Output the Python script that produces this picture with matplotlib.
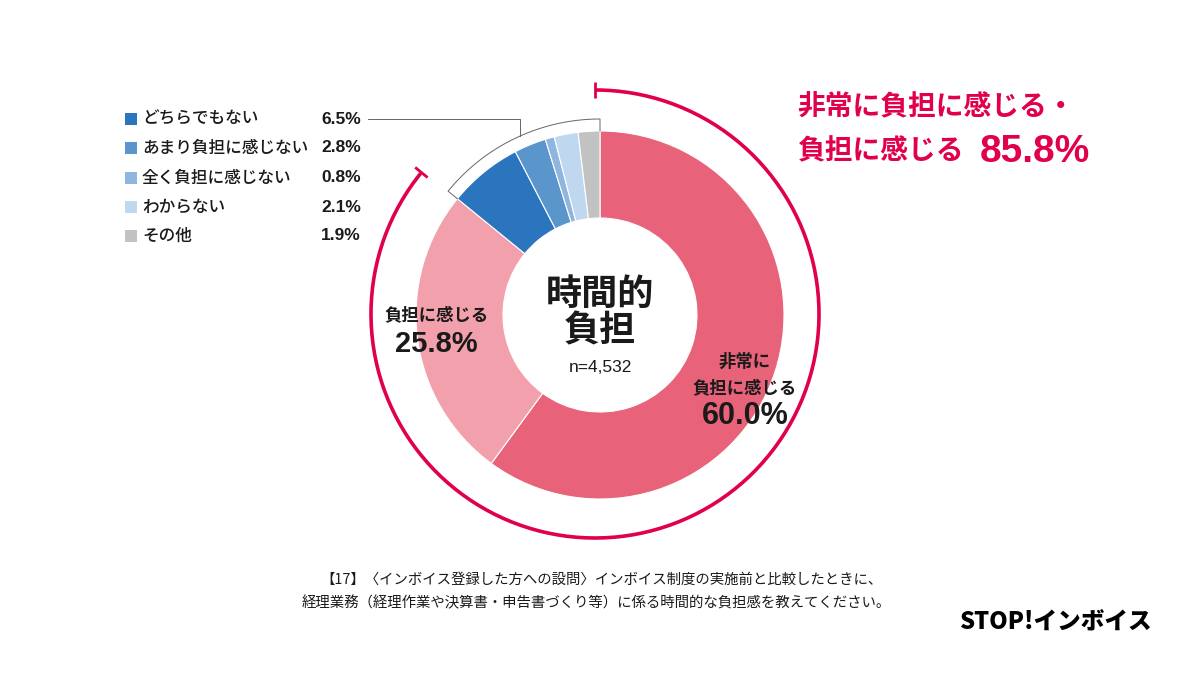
import numpy as np
import matplotlib.pyplot as plt
from matplotlib.patches import Arc

JP = ['Noto Sans CJK JP', 'DejaVu Sans']
NUM = ['Liberation Sans', 'Noto Sans CJK JP']

labels = ['非常に負担に感じる', '負担に感じる', 'どちらでもない', 'あまり負担に感じない',
          '全く負担に感じない', 'わからない', 'その他']
values = [60.0, 25.8, 6.5, 2.8, 0.8, 2.1, 1.9]
colors = ['#E8637A', '#F2A1AC', '#2A75BD', '#5A95CC', '#8FB6DF', '#BFD8EF', '#C2C2C2']
n_count = '4,532'
caption = ['【17】〈インボイス登録した方への設問〉インボイス制度の実施前と比較したときに、',
           '経理業務（経理作業や決算書・申告書づくり等）に係る時間的な負担感を教えてください。']

H = 675
RED = '#E0004B'
TXT = '#1a1a1a'

fig = plt.figure(figsize=(12, 6.75), dpi=100)
ax = fig.add_axes([0, 0, 1, 1])

cx, cy = 600, H - 315
r_out, r_in = 184, 97
ax.pie(values, colors=colors, startangle=90, counterclock=False,
       center=(cx, cy), radius=r_out,
       wedgeprops=dict(width=r_out - r_in, edgecolor='white', linewidth=0.8))

# share of "burden" answers (first two)
burden = values[0] + values[1]
frac = burden / sum(values)
a_end = (90 - 360 * frac) % 360   # ~141 deg

# outer red arc for 85.8%
acx, acy, ar = 595, H - 314, 224
ax.add_patch(Arc((acx, acy), 2 * ar, 2 * ar, theta1=a_end, theta2=90,
                 color=RED, lw=2.6, zorder=3))
for a in (90, a_end):
    t = np.deg2rad(a)
    rr = np.array([ar - 8, ar + 8])
    ax.plot(acx + rr * np.cos(t), acy + rr * np.sin(t), color=RED, lw=2.0,
            solid_capstyle='butt', zorder=3)

# bracket round the small answers
r_b = 196
th = np.deg2rad(np.linspace(a_end, 90, 60))
bx = np.concatenate([[cx + r_out * np.cos(th[0])], cx + r_b * np.cos(th), [cx + r_out * np.cos(th[-1])]])
by = np.concatenate([[cy + r_out * np.sin(th[0])], cy + r_b * np.sin(th), [cy + r_out * np.sin(th[-1])]])
ax.plot(bx, by, color='#666666', lw=0.7, zorder=2)

# leader line from legend
lx = 520
ly_end = cy + np.sqrt(r_b ** 2 - (lx - cx) ** 2)
ax.plot([368, lx, lx], [H - 119, H - 119, ly_end], color='#666666', lw=0.7)

# legend of the small answers
rows_y = [119, 148, 178, 207, 236]
for lab, val, col, yy in zip(labels[2:], values[2:], colors[2:], rows_y):
    ax.add_patch(plt.Rectangle((125, H - yy - 6), 12, 12, color=col, lw=0))
    ax.text(142, H - yy, lab, family=JP, fontsize=12, weight='medium', color=TXT,
            va='center', ha='left')
    ax.text(361, H - yy, f'{val:.1f}%', family=NUM, fontsize=12.5, weight='bold',
            color=TXT, va='center', ha='right')

# centre
ax.text(cx, H - 294, '時間的', family=JP, fontsize=26, weight='bold', color=TXT,
        ha='center', va='center')
ax.text(cx, H - 331, '負担', family=JP, fontsize=26, weight='bold', color=TXT,
        ha='center', va='center')
ax.text(cx, H - 367, f'n={n_count}', family=NUM, fontsize=12.5, color=TXT,
        ha='center', va='center')

# segment labels
ax.text(437, H - 315, labels[1], family=JP, fontsize=12.5, weight='bold', color=TXT,
        ha='center', va='center')
ax.text(436, H - 344, f'{values[1]:.1f}%', family=NUM, fontsize=21, weight='bold',
        color=TXT, ha='center', va='center')
ax.text(745, H - 362, '非常に', family=JP, fontsize=12.5, weight='bold', color=TXT,
        ha='center', va='center')
ax.text(745, H - 388, '負担に感じる', family=JP, fontsize=12.5, weight='bold', color=TXT,
        ha='center', va='center')
ax.text(745, H - 416, f'{values[0]:.1f}%', family=NUM, fontsize=22, weight='bold',
        color=TXT, ha='center', va='center')

# top right summary
ax.text(797, H - 107, '非常に負担に感じる・', family=JP, fontsize=20, weight='bold',
        color=RED, ha='left', va='center')
ax.text(797, H - 151, '負担に感じる', family=JP, fontsize=20, weight='bold',
        color=RED, ha='left', va='center')
ax.text(1090, H - 152, f'{burden:.1f}%', family=NUM, fontsize=28, weight='bold',
        color=RED, ha='right', va='center')

# question text
ax.text(601, H - 580, caption[0], family=JP, fontsize=10.4, color=TXT, ha='center', va='center')
ax.text(596, H - 603, caption[1], family=JP, fontsize=10.4, color=TXT, ha='center', va='center')

# logo
ax.text(1152, H - 622, 'STOP!インボイス', family=JP, fontsize=17, weight='heavy',
        color='black', ha='right', va='center')

ax.set_xlim(0, 1200)
ax.set_ylim(0, H)
ax.set_aspect('equal')
ax.axis('off')

fig.savefig('out.png', dpi=100)
